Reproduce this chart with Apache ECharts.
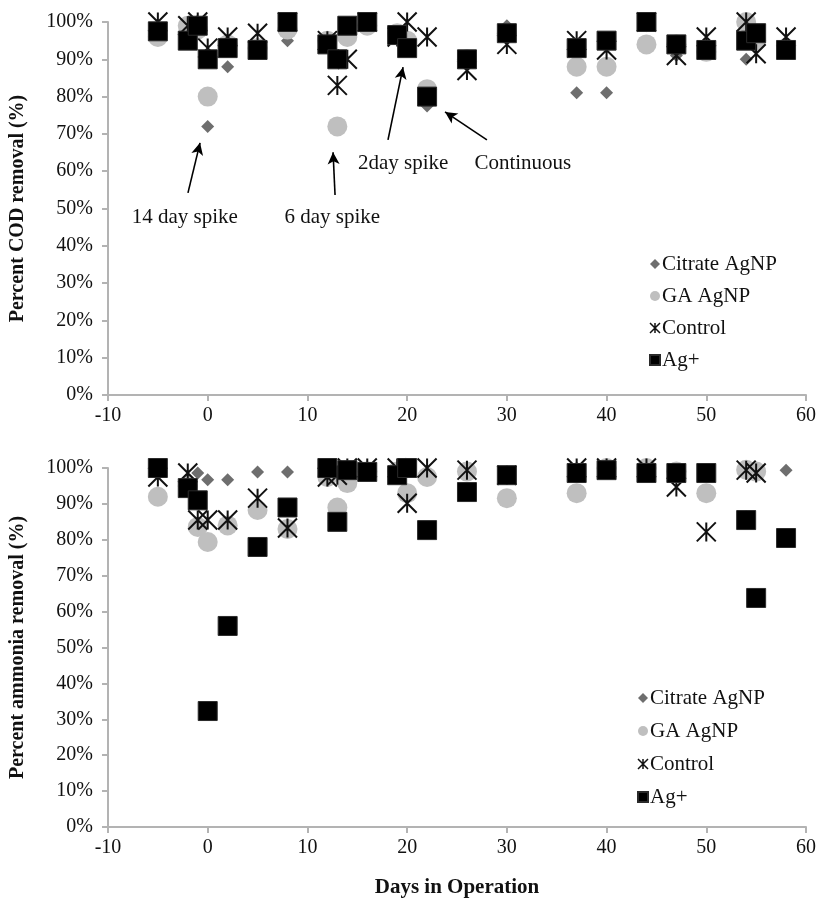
<!DOCTYPE html>
<html>
<head>
<meta charset="utf-8">
<script src="https://cdn.jsdelivr.net/npm/echarts@6/dist/echarts.min.js"></script>
<style>
  html, body { margin: 0; padding: 0; background: #fff; }
  #chart { width: 820px; height: 899px; }
</style>
</head>
<body>
<div id="chart"></div>
<script>
// Sampling days (days in operation)
const days = [-5, -2, -1, 0, 2, 5, 8, 12, 13, 14, 16, 19, 20, 22, 26, 30, 37, 40, 44, 47, 50, 54, 55, 58];

// Percent COD removal
const codCitrate = [97, 96, 99, 72, 88, 93, 95, 94, 90, 98, 100, 96, 93, 77.5, 90, 99, 81, 81, 99, 91, 93, 90, 96, 93];
const codGA      = [96, 99, 98, 80, 94, 93, 98, 95, 72, 96, 99, 97, 95, 82, 90, 97, 88, 88, 94, 94, 92, 100, 95, 93];
const codControl = [100, 99, 100, 93, 96, 97, 100, 95, 83, 90, 100, 96, 100, 96, 87, 94, 95, 92.5, 100, 91, 96, 100, 91.5, 96];
const codAg      = [97.5, 95, 99, 90, 93, 92.5, 100, 94, 90, 99, 100, 96.5, 93, 80, 90, 97, 93, 95, 100, 94, 92.5, 95, 97, 92.5];

// Percent ammonia removal
const nhCitrate = [99, 97, 98.6, 96.7, 96.7, 98.9, 98.9, 99, 99, 99, 100, 99, 99, 97, 99, 98, 100, 100, 100, 99, 99, 86.5, 99, 99.4];
const nhGA      = [92, 95, 83.6, 79.4, 84, 88.3, 83, 97.5, 89, 95.8, 99, 99, 93, 97.5, 99, 91.6, 93, 100, 100, 99, 93, 99.5, 99, null];
const nhControl = [97.5, 98.6, 85.5, 85.5, 85.5, 91.6, 83.3, 97.5, 98, 100, 100, 100, 90.2, 100, 99.4, 98, 100, 100, 100, 94.7, 82.2, 99.4, 98.6, null];
const nhAg      = [100, 94.4, 91, 32.3, 56, 78, 89, 100, 85, 99.4, 98.9, 98, 100, 82.7, 93.3, 98, 98.6, 99.4, 98.6, 98.6, 98.6, 85.5, 63.8, 80.5];

// Axis settings
const xTicks = { min: -10, max: 60, interval: 10 };
const yTicks = { min: 0, max: 100, interval: 10 };

// Series names
const names = ['Citrate AgNP', 'GA AgNP', 'Control', 'Ag+'];

// Annotation arrows on the COD panel: [fromDay, fromPct, toDay, toPct]
const arrows = [
  [-1.98, 54.2, -0.77, 67.6],
  [12.77, 53.6, 12.57, 65.1],
  [18.08, 68.4, 19.59, 87.9],
  [28.0, 68.4, 23.8, 75.9]
];
// Annotation texts: [label, day, pct]
const notes = [
  ['14 day spike', -2.3, 47.7],
  ['6 day spike', 12.5, 47.7],
  ['2day spike', 19.6, 62.2],
  ['Continuous', 31.6, 62.2]
];

const SERIF = '"Liberation Serif", "Times New Roman", serif';
const STAR = 'path://M0,0L20,20M20,0L0,20M10,0L10,20';

function pairs(vals) {
  const out = [];
  days.forEach((d, i) => { if (vals[i] != null) out.push([d, vals[i]]); });
  return out;
}

const styles = {
  'Citrate AgNP': { symbol: 'diamond', symbolSize: 13, itemStyle: { color: '#6e6e6e', opacity: 1 } },
  'GA AgNP': { symbol: 'circle', symbolSize: 20, itemStyle: { color: '#bfbfbf', opacity: 1 } },
  'Control': { symbol: STAR, symbolSize: 19, itemStyle: { color: 'rgba(0,0,0,0)', borderColor: '#111', borderWidth: 2, opacity: 1 } },
  'Ag+': { symbol: 'rect', symbolSize: 19, itemStyle: { color: '#000', borderColor: '#2a2a2a', borderWidth: 1, opacity: 1 } }
};

function makeSeries(name, vals, idx) {
  const s = styles[name];
  return {
    name: name,
    type: 'scatter',
    xAxisIndex: idx,
    yAxisIndex: idx,
    symbol: s.symbol,
    symbolSize: s.symbolSize,
    itemStyle: s.itemStyle,
    emphasis: { disabled: true },
    data: pairs(vals)
  };
}

function xAxis(idx) {
  return {
    type: 'value', gridIndex: idx,
    min: xTicks.min, max: xTicks.max, interval: xTicks.interval,
    axisLine: { onZero: false, lineStyle: { color: '#b3b3b3', width: 2 } },
    axisTick: { show: true, length: 6, lineStyle: { color: '#b3b3b3', width: 2 } },
    axisLabel: { color: '#111', fontFamily: SERIF, fontSize: 20, margin: 11 },
    splitLine: { show: false },
    name: idx === 1 ? 'Days in Operation' : '',
    nameLocation: 'middle', nameGap: 50,
    nameTextStyle: { color: '#111', fontFamily: SERIF, fontSize: 21, fontWeight: 'bold' }
  };
}

function yAxis(idx, title) {
  return {
    type: 'value', gridIndex: idx,
    min: yTicks.min, max: yTicks.max, interval: yTicks.interval,
    axisLine: { show: true, onZero: false, lineStyle: { color: '#b3b3b3', width: 2 } },
    axisTick: { show: true, length: 6, lineStyle: { color: '#b3b3b3', width: 2 } },
    axisLabel: { color: '#111', fontFamily: SERIF, fontSize: 20, margin: 15, formatter: '{value}%' },
    splitLine: { show: false },
    name: title, nameLocation: 'middle', nameGap: 80,
    nameTextStyle: { color: '#111', fontFamily: SERIF, fontSize: 20, fontWeight: 'bold' }
  };
}

function legendData() {
  return [
    { name: names[0], icon: 'diamond', itemStyle: { color: '#6e6e6e' } },
    { name: names[1], icon: 'circle', itemStyle: { color: '#bfbfbf' } },
    { name: names[2], icon: STAR, itemStyle: { color: 'rgba(0,0,0,0)', borderColor: '#111', borderWidth: 1.5 } },
    { name: names[3], icon: 'rect', itemStyle: { color: '#000' } }
  ];
}

function legend(left, top, gap) {
  return {
    orient: 'vertical', left: left, top: top,
    itemWidth: 10, itemHeight: 10, itemGap: gap,
    selectedMode: false,
    textStyle: { color: '#111', fontFamily: SERIF, fontSize: 21, lineHeight: 24, padding: [0, 0, 0, -3] },
    data: legendData()
  };
}

const codVals = [codCitrate, codGA, codControl, codAg];
const nhVals = [nhCitrate, nhGA, nhControl, nhAg];

const series = [];
names.forEach((n, i) => series.push(makeSeries(n, codVals[i], 0)));
names.forEach((n, i) => series.push(makeSeries(n, nhVals[i], 1)));

// arrows ride on the first COD series
series[0].markLine = {
  silent: true,
  symbol: ['none', 'arrow'],
  symbolSize: [9, 12],
  label: { show: false },
  lineStyle: { color: '#000', width: 1.6, type: 'solid', opacity: 1 },
  emphasis: { disabled: true },
  data: arrows.map(a => [{ coord: [a[0], a[1]] }, { coord: [a[2], a[3]] }])
};

const chart = echarts.init(document.getElementById('chart'), null, { renderer: 'canvas' });
chart.setOption({
  animation: false,
  backgroundColor: '#fff',
  grid: [
    { left: 108, width: 698, top: 22, height: 373 },
    { left: 108, width: 698, top: 468, height: 359 }
  ],
  xAxis: [xAxis(0), xAxis(1)],
  yAxis: [yAxis(0, 'Percent COD removal (%)'), yAxis(1, 'Percent ammonia removal (%)')],
  legend: [legend(644, 247, 8), legend(632, 681, 9)],
  series: series
});

// annotation labels placed in data space of the COD panel
chart.setOption({
  graphic: notes.map(n => {
    const p = chart.convertToPixel({ gridIndex: 0 }, [n[1], n[2]]);
    return {
      type: 'text', x: p[0], y: p[1],
      style: { text: n[0], fill: '#111', font: '21px ' + SERIF, align: 'center', verticalAlign: 'middle' }
    };
  })
});
</script>
</body>
</html>
